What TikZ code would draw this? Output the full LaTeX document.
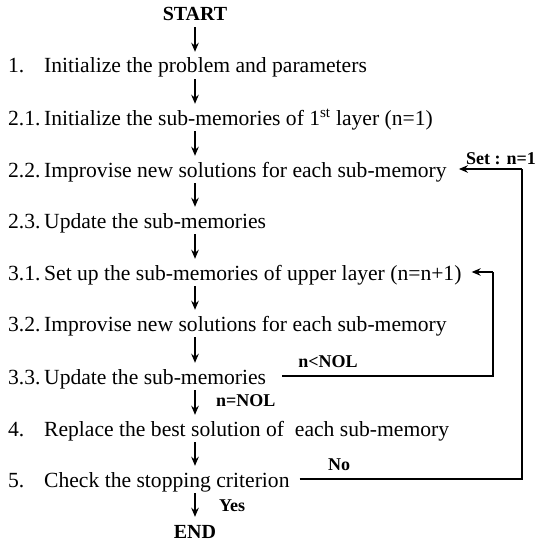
\documentclass[tikz,border=0pt]{standalone}
\usepackage{fontspec}
\setmainfont{Liberation Serif}
\usepackage{tikz}
\usetikzlibrary{positioning, calc, arrows.meta}

\tikzset{
    stepnode/.style={anchor=west, inner sep=0pt, text height=17pt, text depth=1pt, font=\fontsize{21.6}{22}\selectfont},
    endnode/.style={inner sep=0pt, text height=17pt, text depth=1pt, font=\fontsize{20}{20}\selectfont\bfseries},
    cond/.style={inner sep=0pt, font=\fontsize{18}{18}\selectfont\bfseries},
    flow/.style={line width=1.5pt, -{Stealth[length=9pt, width=7.5pt]}},
    loopline/.style={line width=1.5pt}
}
\newcommand{\stepno}[1]{\makebox[36pt][l]{#1}}

\begin{document}
\begin{tikzpicture}[x=1pt, y=-1pt]
    \useasboundingbox (0,0) rectangle (536,543);

    % Steps
    \node[endnode] (start) at (195,13) {START};
    \node[stepnode] (s1) at (8,65) {\stepno{1.}Initialize the problem and parameters};
    \node[stepnode] (s21) at (8,117) {\stepno{2.1.}Initialize the sub-memories of 1\textsuperscript{st} layer (n=1)};
    \node[stepnode] (s22) at (8,169) {\stepno{2.2.}Improvise new solutions for each sub-memory};
    \node[stepnode] (s23) at (8,220) {\stepno{2.3.}Update the sub-memories};
    \node[stepnode] (s31) at (8,272) {\stepno{3.1.}Set up the sub-memories of upper layer (n=n+1)};
    \node[stepnode] (s32) at (8,323) {\stepno{3.2.}Improvise new solutions for each sub-memory};
    \node[stepnode] (s33) at (8,376) {\stepno{3.3.}Update the sub-memories};
    \node[stepnode] (s4) at (8,428) {\stepno{4.}Replace the best solution of \ each sub-memory};
    \node[stepnode] (s5) at (8,479) {\stepno{5.}Check the stopping criterion};
    \node[endnode] (end) at (195,530) {END};

    % Main flow
    \draw[flow, shorten <=5pt, shorten >=4pt] (start.south) -- (start.south |- s1.north);
    \foreach \a/\b in {s1/s21, s21/s22, s22/s23, s23/s31, s31/s32, s32/s33, s33/s4, s4/s5, s5/end}
        \draw[flow, shorten <=5pt, shorten >=4pt] (start.south |- \a.south) -- (start.south |- \b.north);

    % Loops
    \coordinate (inner) at (493,0);
    \coordinate (outer) at (522,0);
    \draw[loopline] ([xshift=16pt]s33.east) -- (inner |- s33.east) -- (inner |- s31.east);
    \draw[flow] (inner |- s31.east) -- ([xshift=10pt]s31.east);
    \draw[loopline] ([xshift=10pt]s5.east) -- (outer |- s5.east) -- (outer |- s22.east);
    \draw[flow] (outer |- s22.east) -- ([xshift=12pt]s22.east);

    % Conditions
    \node[cond] (setn) at (501,159) {Set : n=1};
    \node[cond] (less) at (328,362) {n<NOL};
    \node[cond, anchor=west] (equal) at (216,401) {n=NOL};
    \node[cond] (no) at (339,465) {No};
    \node[cond, anchor=west] (yes) at (219,506) {Yes};
\end{tikzpicture}
\end{document}
